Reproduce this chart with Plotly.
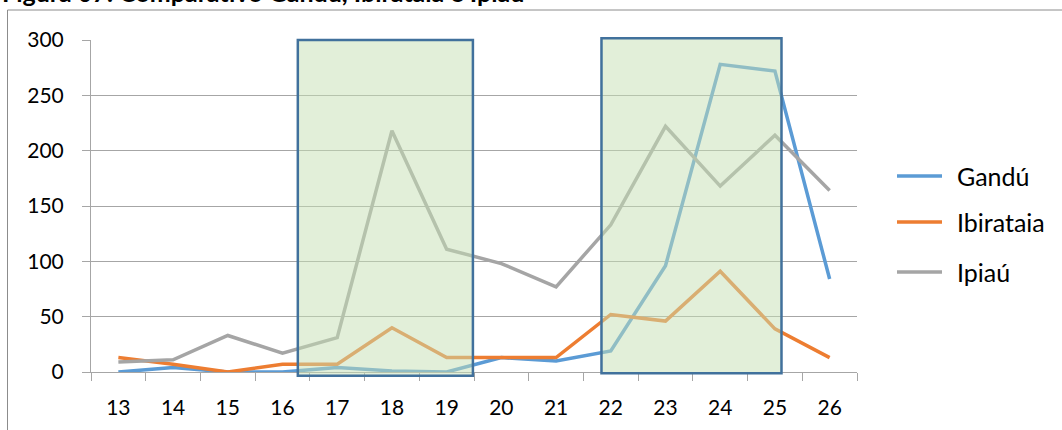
import plotly.graph_objects as go

weeks = [13, 14, 15, 16, 17, 18, 19, 20, 21, 22, 23, 24, 25, 26]
gandu = [0, 4, 0, 0, 4, 1, 0, 13, 10, 19, 96, 278, 272, 84]
ibirataia = [13, 7, 0, 7, 7, 40, 13, 13, 13, 52, 46, 91, 39, 13]
ipiau = [9, 11, 33, 17, 31, 218, 111, 98, 77, 133, 222, 168, 214, 164]
series_names = ["Gandú", "Ibirataia", "Ipiaú"]
series_colors = ["#5B9BD5", "#ED7D31", "#A5A5A5"]
title_text = "Figura 07: Comparativo Gandú, Ibirataia e Ipiaú"
# highlighted periods (x range in week units, y range in value units)
highlight_x = [(16.28, 19.48), (21.83, 25.12)]
highlight_y = [(-3.3, 300), (-1.2, 301.5)]
y_range = [0, 300]
y_ticks = [0, 50, 100, 150, 200, 250, 300]

W, H = 1062, 430
L, R, T, B = 91, 205, 40, 58
pw, ph = W - L - R, H - T - B


def px_x(x):
    return (x - L) / pw


def px_y(y):
    return (H - B - y) / ph


def val_to_paper(v):
    return (v - y_range[0]) / (y_range[1] - y_range[0])


fig = go.Figure()
for name, vals, col in zip(series_names, [gandu, ibirataia, ipiau], series_colors):
    fig.add_trace(go.Scatter(
        x=weeks, y=vals, name=name, mode="lines",
        line=dict(color=col, width=3.5), cliponaxis=False,
        showlegend=False,
    ))

for (x0, x1), (y0, y1) in zip(highlight_x, highlight_y):
    fig.add_shape(type="rect", xref="x", yref="paper", x0=x0, x1=x1,
                  y0=val_to_paper(y0), y1=val_to_paper(y1),
                  fillcolor="rgba(197,224,180,0.5)",
                  line=dict(color="#41719C", width=2.5), layer="above")

# outer chart border (partially visible)
fig.add_shape(type="rect", xref="paper", yref="paper",
              x0=px_x(7.5), x1=px_x(W + 20), y0=px_y(H + 20), y1=px_y(10),
              line=dict(color="#8C8C8C", width=1), fillcolor="rgba(0,0,0,0)")

fig.add_annotation(text="<b>" + title_text + "</b>", xref="paper", yref="paper",
                   x=px_x(0), y=px_y(9), xanchor="left", yanchor="bottom",
                   showarrow=False, font=dict(family="Lato", size=25, color="#000000"))

# legend drawn as line samples + labels
legend_y = [176, 222, 272]
for name, col, ly in zip(series_names, series_colors, legend_y):
    fig.add_shape(type="line", xref="paper", yref="paper",
                  x0=px_x(897), x1=px_x(942), y0=px_y(ly), y1=px_y(ly),
                  line=dict(color=col, width=3.5))
    fig.add_annotation(text=name, xref="paper", yref="paper",
                       x=px_x(955), y=px_y(ly), xanchor="left", yanchor="middle",
                       showarrow=False, font=dict(family="Lato", size=25, color="#000000"))

fig.update_layout(
    width=W, height=H,
    margin=dict(l=L, r=R, t=T, b=B, pad=0),
    paper_bgcolor="white", plot_bgcolor="white",
    font=dict(family="Lato", size=21, color="#000000"),
    showlegend=False,
)
fig.update_xaxes(
    range=[12.5, 26.5], tickmode="array", tickvals=weeks, ticktext=[str(w) for w in weeks],
    showgrid=False, zeroline=False,
    showline=True, linecolor="#A6A6A6", linewidth=1,
    ticks="outside", ticklen=8, tickcolor="rgba(0,0,0,0)",
    ticklabelstandoff=9,
    minor=dict(tick0=12.5, dtick=1, ticks="outside", ticklen=8, tickcolor="#A6A6A6", showgrid=False),
)
fig.update_yaxes(
    range=y_range, tickvals=y_ticks,
    showgrid=True, gridcolor="#A6A6A6", gridwidth=1, zeroline=False,
    showline=True, linecolor="#A6A6A6", linewidth=1,
    ticks="outside", ticklen=8, tickcolor="#A6A6A6",
    ticklabelstandoff=14,
)

fig.write_html("out.html", post_script="document.body.style.margin='0';",
               config={"displayModeBar": False})
